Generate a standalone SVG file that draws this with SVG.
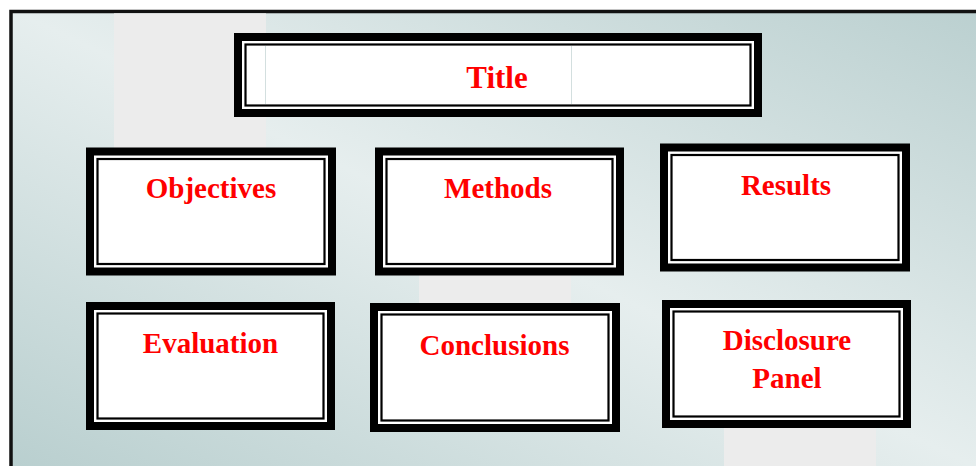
<svg xmlns="http://www.w3.org/2000/svg" width="976" height="466" viewBox="0 0 976 466">
<defs>
<linearGradient id="bg" gradientUnits="userSpaceOnUse" x1="669" y1="-134" x2="317" y2="610">
<stop offset="0" stop-color="#bbd0d0"/>
<stop offset="0.5" stop-color="#e6eeee"/>
<stop offset="1" stop-color="#b9cfcf"/>
</linearGradient>
</defs>
<style>
.frame{fill:url(#bg);stroke:#111;stroke-width:3.5}
.band{fill:#ececec}
.outer{fill:#fff;stroke:#000;stroke-width:8}
.inner{fill:none;stroke:#000;stroke-width:2.2}
.ghost{stroke:#d3dfdf;stroke-width:1}
.lbl{font-family:"Liberation Serif","Times New Roman",serif;font-weight:bold;font-size:29px;fill:#ff0000;text-anchor:middle}
</style>
<rect x="0" y="0" width="976" height="466" fill="#fff"/>
<rect class="frame" x="11" y="11.5" width="985" height="480"/>
<rect class="band" x="114" y="13.3" width="152" height="140"/>
<rect class="band" x="419" y="153" width="152" height="152"/>
<rect class="band" x="724" y="305" width="152" height="161"/>

<g id="title">
<rect class="outer" x="238" y="37" width="520" height="76"/>
<rect class="inner" x="245.5" y="44.5" width="505" height="61"/>
<line class="ghost" x1="265.5" y1="46" x2="265.5" y2="104"/>
<line class="ghost" x1="571.5" y1="46" x2="571.5" y2="104"/>
<text class="lbl" x="497" y="88" style="font-size:31px">Title</text>
</g>
<g id="objectives">
<rect class="outer" x="90" y="151.5" width="242" height="120"/>
<rect class="inner" x="97.5" y="159" width="227" height="105"/>
<text class="lbl" x="211" y="198">Objectives</text>
</g>
<g id="methods">
<rect class="outer" x="379" y="151.5" width="241" height="120"/>
<rect class="inner" x="386.5" y="159" width="226" height="105"/>
<text class="lbl" x="498" y="198">Methods</text>
</g>
<g id="results">
<rect class="outer" x="664" y="147.5" width="242" height="120"/>
<rect class="inner" x="671.5" y="155" width="227" height="105"/>
<text class="lbl" x="786" y="195">Results</text>
</g>
<g id="evaluation">
<rect class="outer" x="90" y="306" width="241" height="120"/>
<rect class="inner" x="97.5" y="313.5" width="226" height="105"/>
<text class="lbl" x="210.5" y="353">Evaluation</text>
</g>
<g id="conclusions">
<rect class="outer" x="374" y="307" width="242" height="121"/>
<rect class="inner" x="381.5" y="314.5" width="227" height="106"/>
<text class="lbl" x="494.5" y="355">Conclusions</text>
</g>
<g id="disclosure">
<rect class="outer" x="666" y="304" width="241" height="120"/>
<rect class="inner" x="673.5" y="311.5" width="226" height="105"/>
<text class="lbl" x="787" y="350">Disclosure</text>
<text class="lbl" x="787" y="388">Panel</text>
</g>
<g id="connectors"/>
</svg>
